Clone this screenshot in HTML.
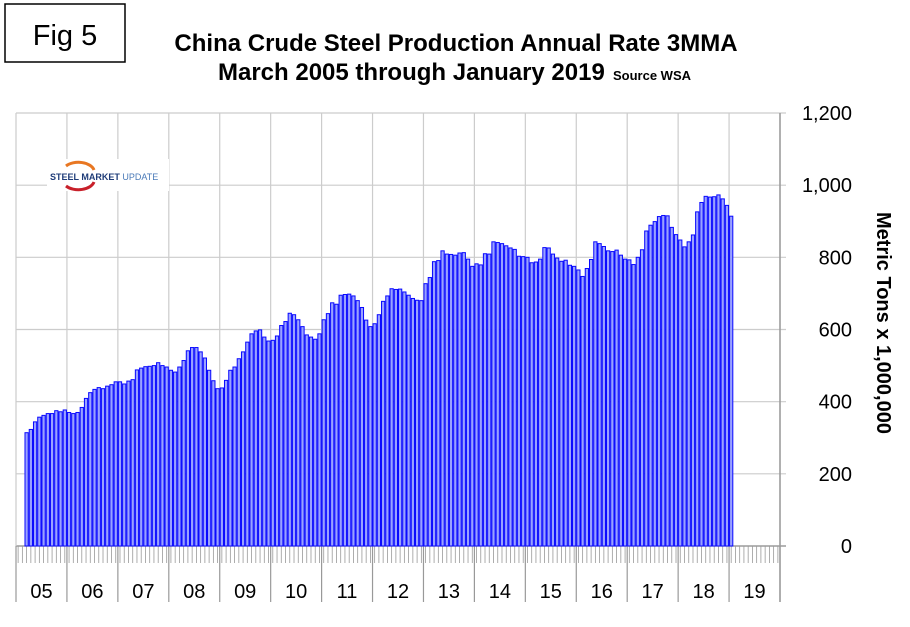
<!DOCTYPE html>
<html><head><meta charset="utf-8"><style>
body{margin:0;background:#fff;width:910px;height:622px;overflow:hidden;font-family:"Liberation Sans",Arial,sans-serif}
</style></head><body>
<svg id="s" width="910" height="622" viewBox="0 0 910 622" xmlns="http://www.w3.org/2000/svg" font-family="Liberation Sans, Arial, sans-serif">
<rect x="0" y="0" width="910" height="622" fill="#fff"/>
<rect x="5" y="4" width="120" height="58" fill="#fff" stroke="#000" stroke-width="1.5"/>
<text x="65" y="45" font-size="29" text-anchor="middle">Fig 5</text>
<text x="456" y="51" font-size="24" font-weight="bold" text-anchor="middle">China Crude Steel Production Annual Rate 3MMA</text>
<text x="218" y="80" font-size="24" font-weight="bold">March 2005 through January 2019</text>
<text x="613" y="80" font-size="13" font-weight="bold">Source WSA</text>
<g id="grid"></g>
<g id="bars"></g>
<g id="logo">
<rect x="47" y="159" width="122" height="32" fill="#fff"/>
<path d="M66 166 A16 10 0 0 1 94 170" fill="none" stroke="#e87722" stroke-width="3"/>
<path d="M66 186 A16 10 0 0 0 94 182" fill="none" stroke="#c8202a" stroke-width="3"/>
<text x="50" y="180" font-size="9" font-weight="bold" fill="#1f3c78">STEEL <tspan font-weight="bold">MARKET</tspan> <tspan font-weight="normal" fill="#4a7ab8">UPDATE</tspan></text>
</g>
<text transform="translate(877,323) rotate(90)" font-size="20" font-weight="bold" text-anchor="middle">Metric Tons x 1,000,000</text>
</svg>
<script>
var v=[314,323,344,357,362,367,367,375,372,377,
370,367,370,384,409,425,434,439,436,443,447,455,
455,449,457,461,488,493,497,498,500,508,500,496,
487,482,496,514,541,550,550,538,521,487,458,436,
438,459,487,496,519,538,565,588,596,599,579,568,
570,582,611,622,645,641,627,608,585,579,573,588,
627,644,674,670,695,697,698,693,680,661,626,608,
616,641,678,693,713,711,712,704,695,686,681,680,
727,744,788,791,818,809,808,806,812,813,795,775,
782,779,810,809,843,841,838,832,826,822,803,802,
800,785,787,795,827,826,809,798,789,792,778,775,
765,747,769,794,843,838,830,818,816,820,806,795,
793,780,800,821,873,889,899,913,916,915,883,863,
848,829,843,862,926,952,969,967,968,973,962,944,914];
var NS="http://www.w3.org/2000/svg",L=16,R=780,T=113,Z=546,mw=(R-L)/180,k=(Z-T)/1200;
function el(p,n,a,t){var e=document.createElementNS(NS,n);for(var i in a)e.setAttribute(i,a[i]);if(t)e.textContent=t;p.appendChild(e);return e}
var g=document.getElementById('grid'),b=document.getElementById('bars');
for(var i=0;i<=6;i++){var y=Z-i*200*k;el(g,'line',{x1:L,x2:R+6,y1:y,y2:y,stroke:i==0?'#888':'#ccc','stroke-width':1.2});
el(g,'text',{x:852,y:y+7,'font-size':20,'text-anchor':'end'},(i*200).toLocaleString('en-US'));}
for(var yr=0;yr<=15;yr++){var x=L+yr*12*mw;el(g,'line',{x1:x,x2:x,y1:T,y2:Z,stroke:'#ccc','stroke-width':1.2});
el(g,'line',{x1:x,x2:x,y1:Z,y2:602,stroke:'#999','stroke-width':1.2});
if(yr<15)el(g,'text',{x:x+6*mw,y:598,'font-size':20,'text-anchor':'middle'},String(5+yr).padStart(2,'0'));}
el(g,'line',{x1:R,x2:R,y1:T,y2:602,stroke:'#999','stroke-width':1.5});
for(var m=0;m<180;m++){var x=L+(m+0.5)*mw;el(g,'line',{x1:x,x2:x,y1:Z,y2:563,stroke:'#999','stroke-width':0.8});}
for(var j=0;j<v.length;j++){var x=L+(j+2)*mw,h=v[j]*k;el(b,'rect',{x:x+0.5,y:Z-h,width:mw-1,height:h,fill:'#9aa2ff',stroke:'#0808ff','stroke-width':1});}
</script>
</body></html>
